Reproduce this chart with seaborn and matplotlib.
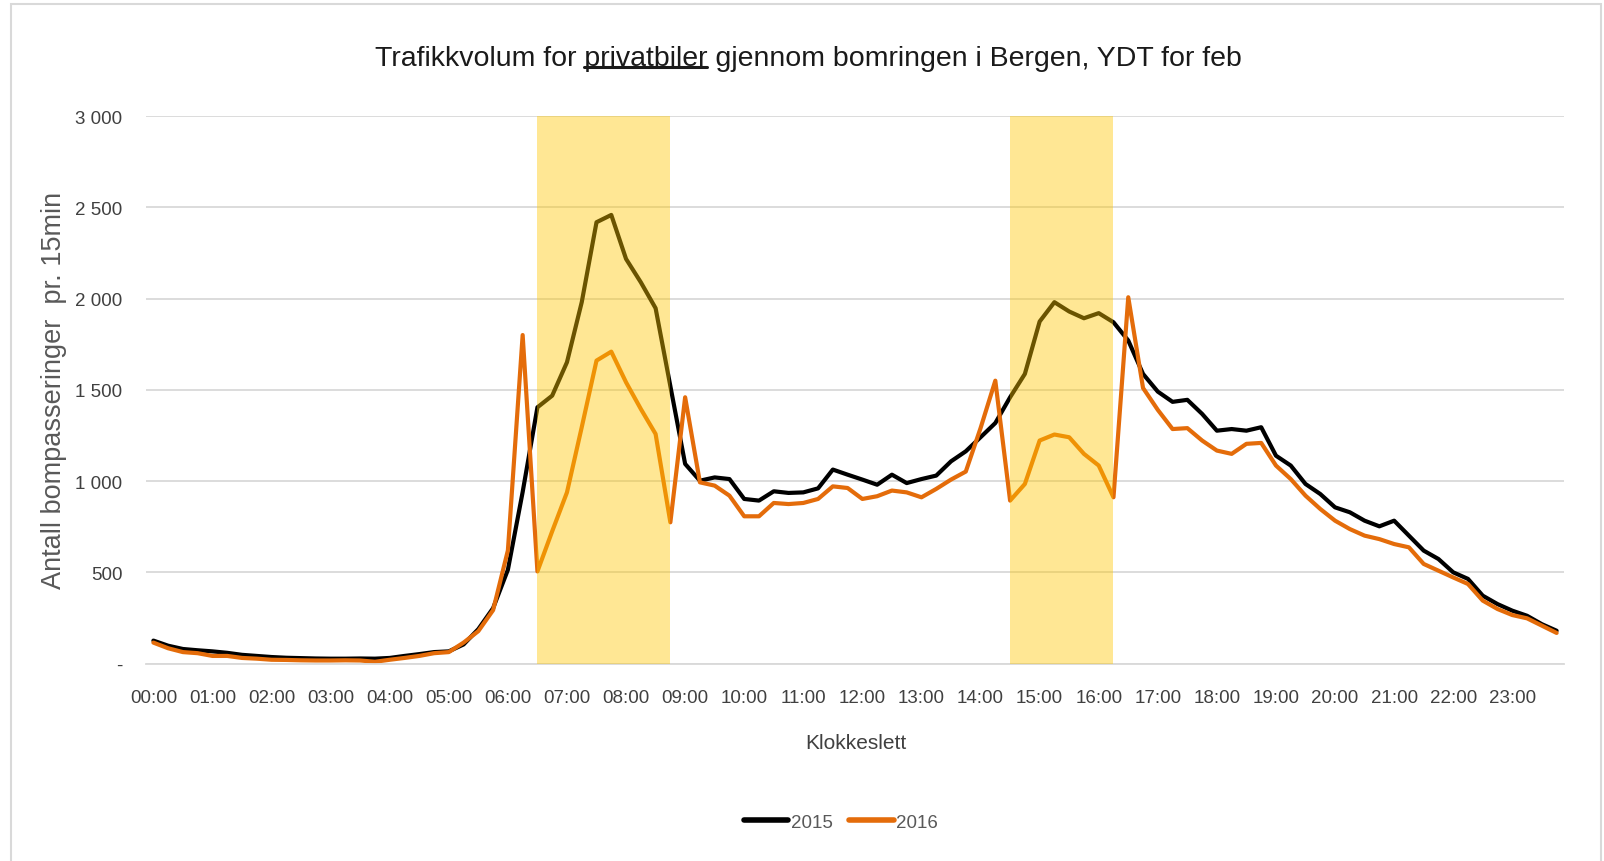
import numpy as np
import pandas as pd
import matplotlib
matplotlib.use("Agg")
import matplotlib.pyplot as plt
import seaborn as sns
from matplotlib.lines import Line2D
from matplotlib.patches import Rectangle

# --- data: passages per 15 min, slot 0 = 00:00 ... slot 95 = 23:45
SLOTS = list(range(96))
Y2015 = [126, 98, 80, 73, 67, 59, 48, 42, 36, 32, 30, 28, 27, 27, 28, 27,
         31, 42, 52, 63, 67, 105, 189, 304, 514, 940, 1404, 1468, 1651, 1980, 2418, 2458,
         2217, 2089, 1947, 1520, 1094, 1002, 1020, 1011, 902, 893, 944, 935, 938, 960, 1063, 1035,
         1008, 980, 1035, 989, 1011, 1030, 1108, 1163, 1240, 1318, 1459, 1587, 1874, 1980, 1929, 1892,
         1920, 1870, 1770, 1587, 1490, 1434, 1445, 1368, 1276, 1285, 1276, 1295, 1139, 1085, 984, 929,
         856, 829, 783, 752, 783, 701, 619, 573, 500, 464, 372, 326, 290, 262, 216, 180]
Y2016 = [115, 84, 63, 57, 42, 42, 31, 27, 21, 20, 18, 17, 17, 18, 17, 10,
         21, 31, 42, 57, 63, 115, 178, 293, 620, 1800, 505, 725, 938, 1295, 1660, 1709,
         1541, 1395, 1258, 774, 1459, 993, 975, 920, 807, 807, 880, 874, 880, 902, 971, 962,
         902, 917, 948, 938, 911, 957, 1008, 1052, 1290, 1550, 893, 984, 1222, 1255, 1240, 1149,
         1085, 911, 2007, 1510, 1390, 1285, 1290, 1222, 1167, 1149, 1204, 1209, 1085, 1011, 920, 847,
         783, 737, 701, 682, 655, 637, 546, 509, 472, 436, 345, 299, 266, 248, 208, 168]
YEARS = ["2015", "2016"]
HOUR_LABELS = [f"{h:02d}:00" for h in range(24)]
HOUR_TICKS = list(range(0, 96, 4))
Y_TICKS = [0, 500, 1000, 1500, 2000, 2500, 3000]
Y_LABELS = ["-", "500", "1 000", "1 500", "2 000", "2 500", "3 000"]
PEAK_BANDS = [(26, 35), (58, 65)]  # rush-hour toll periods, in slots

TITLE_PRE = "Trafikkvolum for "
TITLE_UL = "privatbiler"
TITLE_POST = " gjennom bomringen i Bergen, YDT for feb"

COLORS = {"2015": "#000000", "2016": "#E46C0A"}
GRID = "#d9d9d9"
TITLE_SIZE = 20.5

df = pd.DataFrame({"slot": SLOTS, "2015": Y2015, "2016": Y2016})
long = df.melt(id_vars="slot", value_vars=YEARS, var_name="year", value_name="passeringer")

sns.set_theme(style="white")
plt.rcParams["font.family"] = ["Liberation Sans", "DejaVu Sans"]

W, H = 1604, 862
fig = plt.figure(figsize=(W / 100, H / 100), dpi=100)
ax = fig.add_axes([146 / W, 1 - 664.6 / H, (1564 - 146) / W, (664.6 - 117) / H])

sns.lineplot(data=long, x="slot", y="passeringer", hue="year", palette=COLORS,
             linewidth=3, ax=ax, legend=False, zorder=2)
for a, b in PEAK_BANDS:
    ax.axvspan(a, b, color="#FFC800", alpha=0.42, lw=0, zorder=3)

ax.set_xlim(-0.5, 95.5)
ax.set_ylim(0, 3000)
ax.set_xticks(HOUR_TICKS)
ax.set_xticklabels(HOUR_LABELS)
ax.set_yticks(Y_TICKS)
ax.set_yticklabels(Y_LABELS)
ax.set_xlabel("")
ax.set_ylabel("")
ax.tick_params(axis="both", length=0, labelsize=13.5, labelcolor="#404040")
ax.tick_params(axis="y", pad=17)
ax.tick_params(axis="x", pad=18)
ax.yaxis.grid(True, color=GRID, lw=1.3)
ax.set_axisbelow(True)
for s in ["top", "right", "left"]:
    ax.spines[s].set_visible(False)
ax.spines["bottom"].set_color(GRID)
ax.spines["bottom"].set_linewidth(1.3)

# chart frame
fig.patches.append(Rectangle((11 / W, -0.05), (1601 - 11) / W, 1.05 - 5 / H,
                             transform=fig.transFigure, fill=False,
                             edgecolor=GRID, lw=1.5))

title = fig.text(808 / W, 1 - 59 / H, TITLE_PRE + TITLE_UL + TITLE_POST,
                 ha="center", va="center", fontsize=TITLE_SIZE, color="#1a1a1a")
fig.text(54 / W, 1 - 390 / H, "Antall bompasseringer  pr. 15min", rotation=90,
         ha="center", va="center", fontsize=19.5, color="#595959")
fig.text(856 / W, 1 - 744 / H, "Klokkeslett", ha="center", va="center",
         fontsize=15, color="#404040")

handles = [Line2D([0], [0], color=COLORS[y], lw=4, solid_capstyle="round") for y in YEARS]
fig.legend(handles, YEARS, loc="center", bbox_to_anchor=(841 / W, 1 - 823 / H), ncol=2,
           frameon=False, fontsize=13.5, handlelength=2.35, handletextpad=0.15,
           columnspacing=0.9, labelcolor="#595959")

# underline the word "privatbiler"
fig.canvas.draw()
r = fig.canvas.get_renderer()
tb = title.get_window_extent(r)
tmp = fig.text(0, 0, TITLE_PRE + TITLE_UL, fontsize=TITLE_SIZE)
w_upto = tmp.get_window_extent(r).width
tmp.set_text(TITLE_UL)
w_ul = tmp.get_window_extent(r).width
tmp.remove()
x1 = tb.x0 + w_upto
x0 = x1 - w_ul
yl = tb.y0 + 4
fig.add_artist(Line2D([x0, x1], [yl, yl], transform=None, color="#1a1a1a", lw=2.2))

fig.savefig("out.png", dpi=100)
